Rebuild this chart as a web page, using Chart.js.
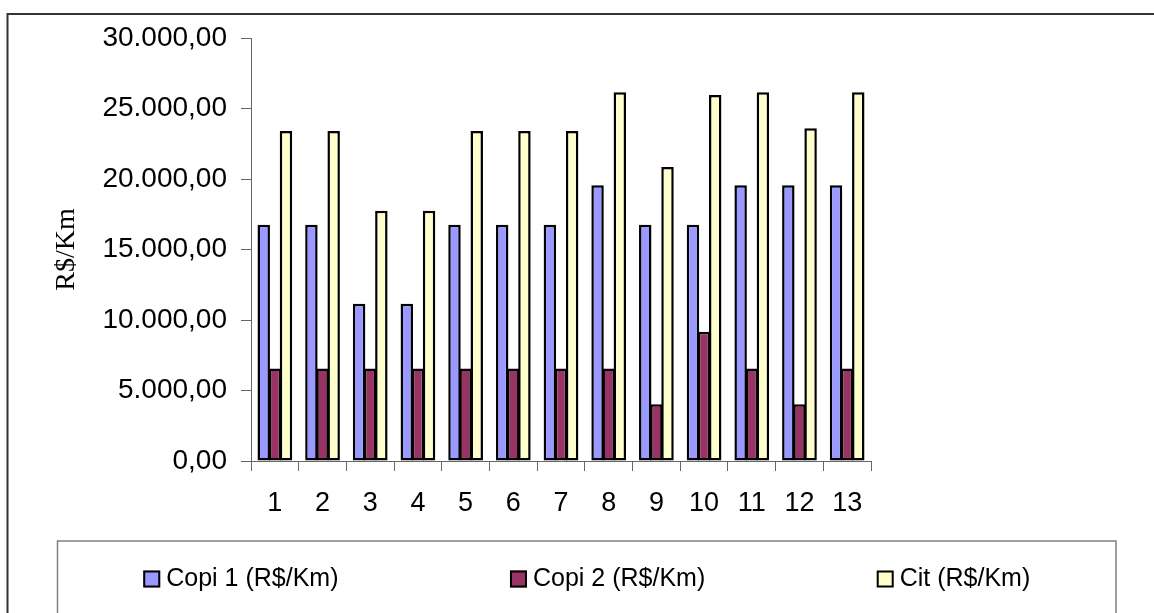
<!DOCTYPE html>
<html>
<head>
<meta charset="utf-8">
<script src="https://cdn.jsdelivr.net/npm/chart.js@4.4.1/dist/chart.umd.min.js"></script>
<style>
    html, body { margin: 0; padding: 0; background: #ffffff; }
    canvas { display: block; }
</style>
</head>
<body>
<canvas id="myChart" width="1154" height="613"></canvas>
<script>
const categories = ['1', '2', '3', '4', '5', '6', '7', '8', '9', '10', '11', '12', '13'];
const copi1 = [16750, 16750, 11150, 11150, 16750, 16750, 16750, 19550, 16750, 16750, 19550, 19550, 19550];
const copi2 = [6560, 6560, 6560, 6560, 6560, 6560, 6560, 6560, 4030, 9160, 6560, 4030, 6560];
const cit = [23400, 23400, 17750, 17750, 23400, 23400, 23400, 26150, 20850, 25950, 26150, 23600, 26150];
const seriesNames = ['Copi 1 (R$/Km)', 'Copi 2 (R$/Km)', 'Cit (R$/Km)'];

// 30000 -> "30.000,00"
function formatBR(v) {
    const parts = Math.abs(v).toFixed(2).split('.');
    const int = parts[0].replace(/\B(?=(\d{3})+(?!\d))/g, '.');
    return (v < 0 ? '-' : '') + int + ',' + parts[1];
}

// frame around the whole chart + legend box with evenly spread items
const frameLegendPlugin = {
    id: 'frameLegendPlugin',
    afterDraw(chart, args, opts) {
        const { ctx } = chart;
        ctx.save();

        ctx.strokeStyle = '#333333';
        ctx.lineWidth = 2;
        ctx.beginPath();
        ctx.moveTo(chart.width + 5, 14);
        ctx.lineTo(7.5, 14);
        ctx.lineTo(7.5, chart.height + 5);
        ctx.stroke();

        const box = opts.box;
        ctx.strokeStyle = '#808080';
        ctx.lineWidth = 1.5;
        ctx.strokeRect(box.x, box.y, box.w, box.h);

        ctx.font = '25px "Liberation Sans", Arial, sans-serif';
        ctx.textBaseline = 'middle';
        const sw = 17, gap = 6;
        const items = chart.data.datasets.map(ds => ({
            ds: ds,
            width: sw + gap + ctx.measureText(ds.label).width
        }));
        const used = items.reduce((s, it) => s + it.width, 0);
        const space = (box.w - used) / items.length;
        let x = box.x + space / 2;
        items.forEach(it => {
            const sy = opts.textY - sw / 2;
            ctx.fillStyle = it.ds.backgroundColor;
            ctx.fillRect(x, sy, sw, sw);
            ctx.strokeStyle = '#000000';
            ctx.lineWidth = 2;
            ctx.strokeRect(x + 1, sy + 1, sw - 2, sw - 2);
            ctx.fillStyle = '#000000';
            ctx.fillText(it.ds.label, x + sw + gap, opts.textY);
            x += it.width + space;
        });
        ctx.restore();
    }
};

const ctx = document.querySelector('#myChart').getContext('2d');
Chart.defaults.color = '#000000';
Chart.defaults.font.family = '"Liberation Sans", Arial, sans-serif';

new Chart(ctx, {
    type: 'bar',
    data: {
        labels: categories,
        datasets: [{
            label: seriesNames[0],
            data: copi1,
            backgroundColor: '#9999FF'
        }, {
            label: seriesNames[1],
            data: copi2,
            backgroundColor: '#993366'
        }, {
            label: seriesNames[2],
            data: cit,
            backgroundColor: '#FFFFCC'
        }]
    },
    options: {
        responsive: false,
        animation: false,
        datasets: {
            bar: {
                borderColor: '#000000',
                borderWidth: 2.5,
                borderSkipped: false,
                categoryPercentage: 0.7,
                barPercentage: 1.12
            }
        },
        layout: {
            padding: { left: 0, top: 38, right: 283, bottom: 92 }
        },
        plugins: {
            legend: { display: false },
            tooltip: { enabled: false },
            frameLegendPlugin: {
                box: { x: 57.5, y: 541, w: 1058.5, h: 100 },
                textY: 579
            }
        },
        scales: {
            y: {
                min: 0,
                max: 30000,
                ticks: {
                    stepSize: 5000,
                    padding: 14,
                    font: { size: 28 },
                    callback: value => formatBR(value)
                },
                grid: {
                    drawOnChartArea: false,
                    drawTicks: true,
                    tickLength: 10,
                    color: '#666666'
                },
                border: { color: '#666666', width: 1 },
                title: {
                    display: true,
                    text: 'R$/Km',
                    font: { family: '"Liberation Serif", "Times New Roman", serif', size: 28 },
                    padding: { top: 50, bottom: 0 }
                },
                afterFit: scale => { scale.width = 251; }
            },
            x: {
                ticks: {
                    padding: 16,
                    font: { size: 27 },
                    maxRotation: 0
                },
                grid: {
                    drawOnChartArea: false,
                    drawTicks: true,
                    tickLength: 10,
                    color: '#666666'
                },
                border: { color: '#666666', width: 1 },
                afterFit: scale => { scale.height = 60; }
            }
        }
    },
    plugins: [frameLegendPlugin]
});
</script>
</body>
</html>
